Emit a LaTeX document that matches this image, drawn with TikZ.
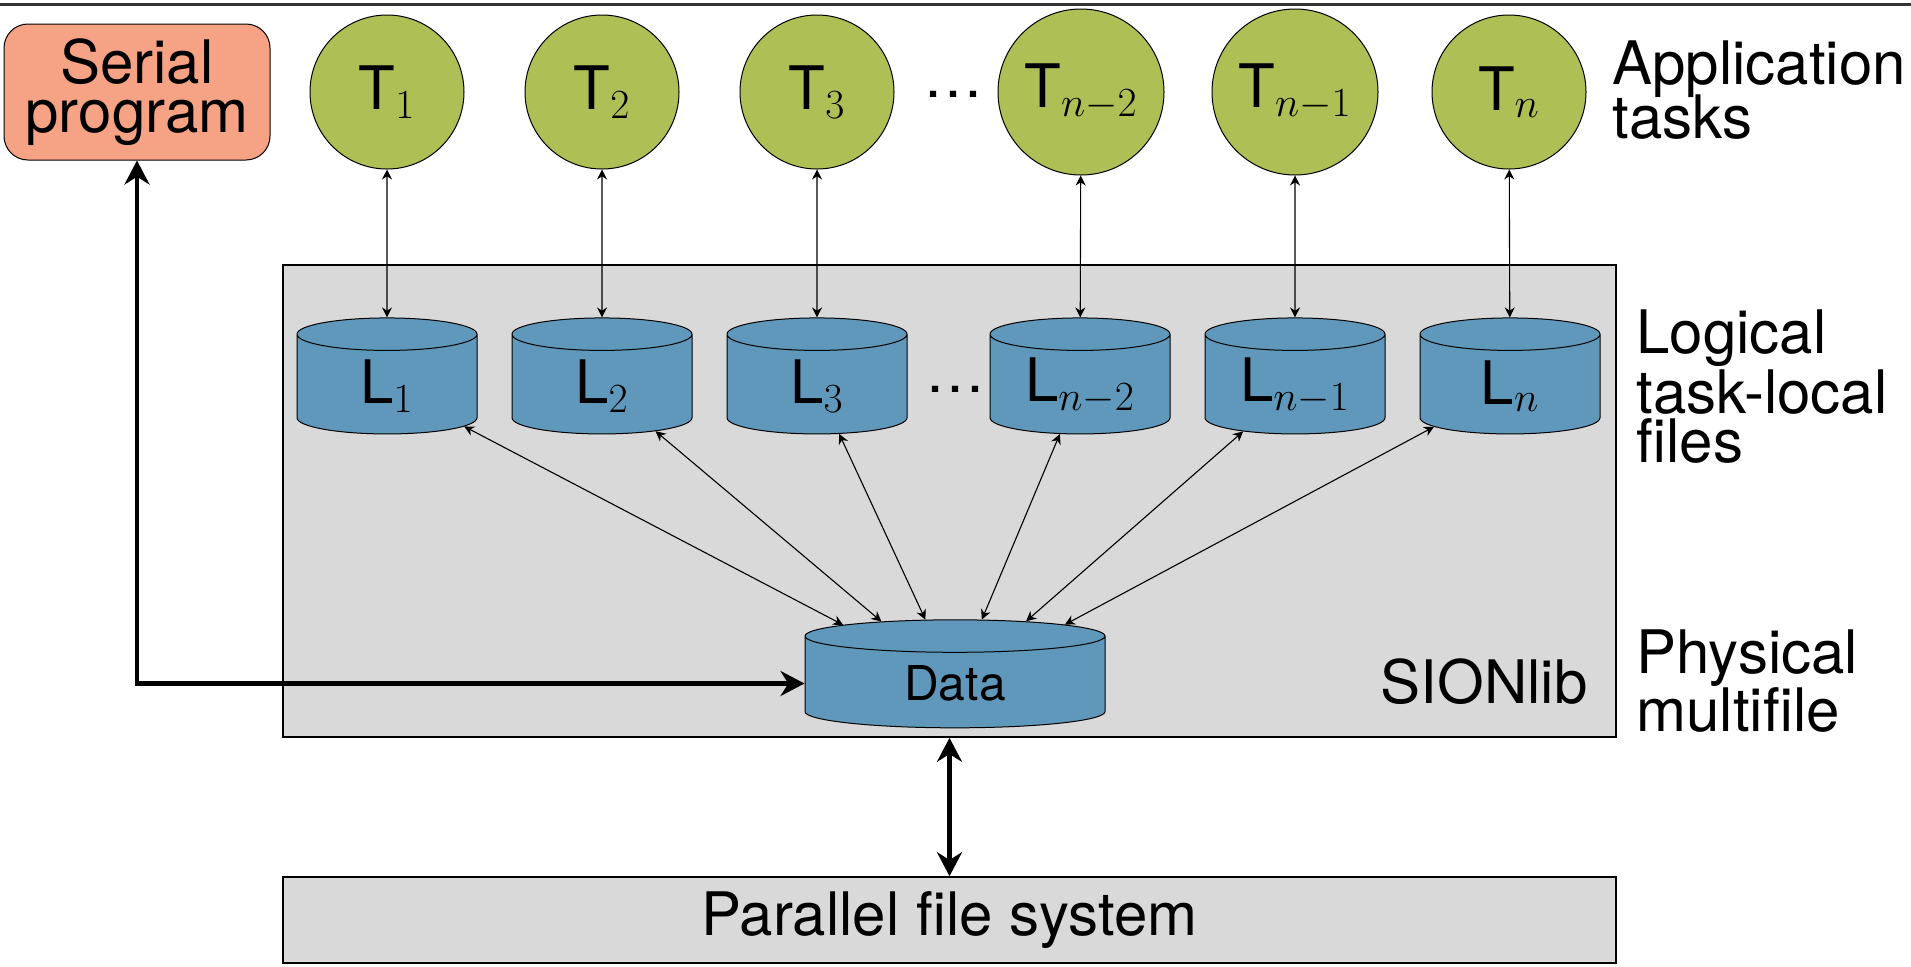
\documentclass[tikz,border=0pt]{standalone}
\usepackage[no-math]{fontspec}
\setmainfont{TeX Gyre Heros}
\usetikzlibrary{arrows.meta,shapes.geometric}
\definecolor{rulegray}{HTML}{333333}
\definecolor{serialfill}{HTML}{F6A385}
\definecolor{taskgreen}{HTML}{AEBF56}
\definecolor{fileblue}{HTML}{6098BB}
\definecolor{boxgray}{HTML}{D9D9D9}
\begin{document}
\begin{tikzpicture}[x=0.5pt,y=-0.5pt,
  big/.style={font=\fontsize{30pt}{27pt}\selectfont},
  task/.style={circle, draw, line width=0.5pt, fill=taskgreen, minimum size=77pt, inner sep=1pt, big},
  widetask/.style={task, minimum size=83pt},
  lfile/.style={cylinder, shape border rotate=90, aspect=0.28, draw, line width=0.5pt,
    fill=fileblue, minimum width=90pt, minimum height=58pt, inner sep=1pt,
    text width=56pt, align=center, big},
  layer/.style={draw, line width=0.8pt, fill=boxgray, inner sep=0pt},
  label/.style={big, anchor=base west, inner sep=0pt},
  link/.style={{Stealth[length=5pt,width=5pt]}-{Stealth[length=5pt,width=5pt]}, line width=0.55pt},
  flow/.style={{Stealth[length=12pt,width=12.5pt]}-{Stealth[length=12pt,width=12.5pt]}, line width=2.4pt},
]
\useasboundingbox (0,0) rectangle (1911,966);
\draw[rulegray, line width=1.5pt] (0,4.5) -- (1911,4.5);

% library layer and file system
\node[layer, minimum width=666.5pt, minimum height=236pt] (sion) at (949.5,501) {};
\node[layer, minimum width=666.5pt, minimum height=43pt, big] (pfs) at (949.5,920) {Parallel file system};

% serial program
\node[draw, line width=0.5pt, fill=serialfill, rounded corners=12pt, minimum width=133pt,
  minimum height=68pt, align=center, font=\fontsize{30pt}{24.5pt}\selectfont] (serial) at (137,92) {Serial\\program};

% application tasks
\node[task] (t1) at (387,92) {T$_1$};
\node[task] (t2) at (602,92) {T$_2$};
\node[task] (t3) at (817,92) {T$_3$};
\node[widetask] (t4) at (1081,92) {T$_{n-2}$};
\node[widetask] (t5) at (1295,92) {T$_{n-1}$};
\node[task] (t6) at (1509,92) {T$_n$};
\node[big, anchor=base, inner sep=0pt] (tdots) at (953,97) {\dots};

% logical task-local files
\node[lfile] (l1) at (387,386) {L$_1$};
\node[lfile] (l2) at (602,386) {L$_2$};
\node[lfile] (l3) at (817,386) {L$_3$};
\node[lfile] (l4) at (1080,386) {L$_{n-2}$};
\node[lfile] (l5) at (1295,386) {L$_{n-1}$};
\node[lfile] (l6) at (1510,386) {L$_n$};
\node[big, anchor=base, inner sep=0pt] (ldots) at (955,392) {\dots};

% physical multifile
\node[lfile, minimum width=150pt, minimum height=54pt, font=\fontsize{24pt}{24pt}\selectfont] (data) at (955,683.5) {Data};
\node[big, anchor=base east, inner sep=0pt] (sionname) at (1588,703) {SIONlib};

% layer labels
\node[label] (app1) at (1612,84) {Application};
\node[label] (app2) at (1612,138) {tasks};
\node[label] (log1) at (1636,353) {Logical};
\node[label] (log2) at (1636,413) {task-local};
\node[label] (log3) at (1636,462) {files};
\node[label] (phy1) at (1636,673) {Physical};
\node[label] (phy2) at (1636,731) {multifile};

% connections
\foreach \i in {1,...,6} {
  \draw[link] (t\i) -- (l\i);
  \draw[link] (l\i) -- (data);
}
\draw[flow] (serial.south) |- (data.west);
\draw[flow] (sion.south) -- (pfs.north);
\end{tikzpicture}
\end{document}
